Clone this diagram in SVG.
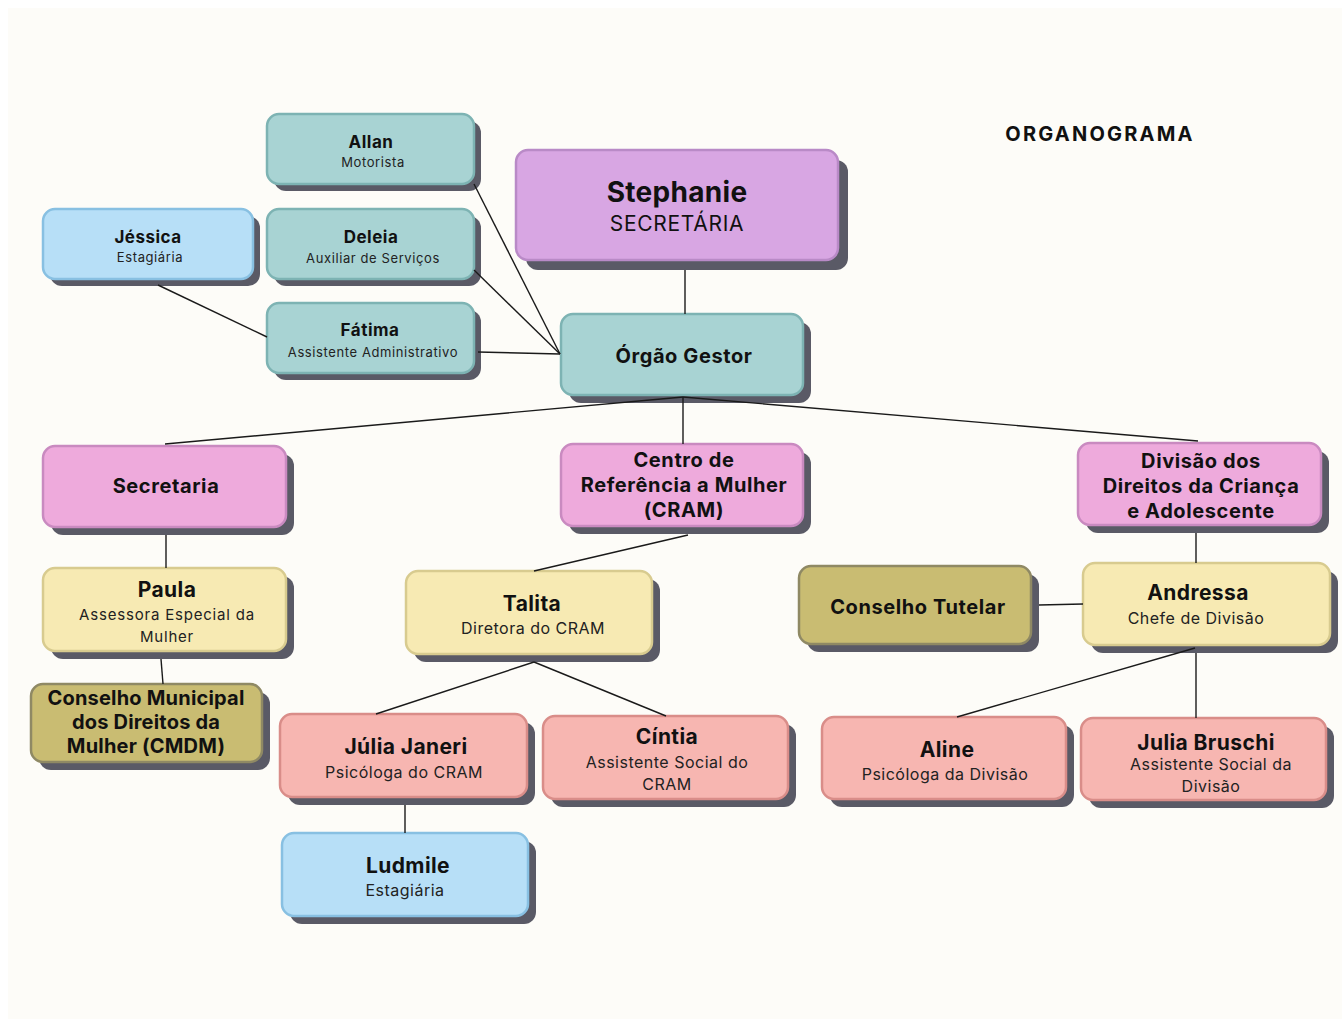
<svg xmlns="http://www.w3.org/2000/svg" width="1342" height="1019" viewBox="0 0 1342 1019">
<defs>
<style>
.sh{fill:#5a5a66}
.teal{fill:#a8d3d3;stroke:#7db3b3;stroke-width:2.5}
.blue{fill:#b7dff7;stroke:#88c0e2;stroke-width:2.5}
.purp{fill:#d8a6e3;stroke:#b98ac7;stroke-width:2.5}
.pink{fill:#eeaadc;stroke:#c98ac0;stroke-width:2.5}
.yel{fill:#f7eab3;stroke:#d8cb8f;stroke-width:2.5}
.olive{fill:#c9bc72;stroke:#8f8964;stroke-width:2.5}
.sal{fill:#f7b6b1;stroke:#d98d89;stroke-width:2.5}
text{font-family:Inter,"Liberation Sans",sans-serif;fill:#111;text-anchor:middle}
.b{font-weight:700}
.b20{font-weight:700;font-size:20px;letter-spacing:0.6px}
.n21{font-weight:700;font-size:21px;letter-spacing:0.4px}
.n17{font-weight:700;font-size:17px;letter-spacing:0.5px}
.s13{fill:#222;font-size:13px;letter-spacing:0.6px}
.s15{fill:#222;font-size:15px;letter-spacing:0.8px}
.s16{fill:#222;font-size:16px;letter-spacing:0.5px}
.con line{stroke:#1a1a1a;stroke-width:1.4}
</style>
</defs>
<rect width="1342" height="1019" fill="#ffffff"/>
<rect x="8" y="8" width="1334" height="1011" fill="#fdfcf8"/>

<g id="allan"><rect class="sh" x="274" y="121" width="207" height="70" rx="12"/><rect class="teal" x="267" y="114" width="207" height="70" rx="12"/><text class="n17" x="371" y="148">Allan</text><text class="s13" x="373" y="167">Motorista</text></g>
<g id="jessica"><rect class="sh" x="50" y="216" width="210" height="70" rx="12"/><rect class="blue" x="43" y="209" width="210" height="70" rx="12"/><text class="n17" x="148" y="243">Jéssica</text><text class="s13" x="150" y="262">Estagiária</text></g>
<g id="deleia"><rect class="sh" x="274" y="216" width="207" height="70" rx="12"/><rect class="teal" x="267" y="209" width="207" height="70" rx="12"/><text class="n17" x="371" y="243">Deleia</text><text class="s13" x="373" y="263">Auxiliar de Serviços</text></g>
<g id="fatima"><rect class="sh" x="274" y="310" width="207" height="70" rx="12"/><rect class="teal" x="267" y="303" width="207" height="70" rx="12"/><text class="n17" x="370" y="336">Fátima</text><text class="s13" x="373" y="357">Assistente Administrativo</text></g>
<g id="stephanie"><rect class="sh" x="526" y="160" width="322" height="110" rx="12"/><rect class="purp" x="516" y="150" width="322" height="110" rx="12"/><text class="b" x="677" y="202" font-size="28" letter-spacing="0.3">Stephanie</text><text x="677" y="231" font-size="21" letter-spacing="0.7" fill="#222">SECRETÁRIA</text></g>
<g id="orgao"><rect class="sh" x="569" y="322" width="242" height="81" rx="12"/><rect class="teal" x="561" y="314" width="242" height="81" rx="12"/><text class="b20" x="684" y="363">Órgão Gestor</text></g>
<g id="secretaria"><rect class="sh" x="51" y="454" width="243" height="81" rx="12"/><rect class="pink" x="43" y="446" width="243" height="81" rx="12"/><text class="b20" x="166" y="493">Secretaria</text></g>
<g id="centro"><rect class="sh" x="569" y="452" width="242" height="82" rx="12"/><rect class="pink" x="561" y="444" width="242" height="82" rx="12"/><text class="b20" x="684" y="467">Centro de</text><text class="b20" x="684" y="492">Referência a Mulher</text><text class="b20" x="684" y="517">(CRAM)</text></g>
<g id="divisao"><rect class="sh" x="1086" y="451" width="243" height="82" rx="12"/><rect class="pink" x="1078" y="443" width="243" height="82" rx="12"/><text class="b20" x="1201" y="468">Divisão dos</text><text class="b20" x="1201" y="493">Direitos da Criança</text><text class="b20" x="1201" y="518">e Adolescente</text></g>
<g id="paula"><rect class="sh" x="51" y="576" width="243" height="83" rx="12"/><rect class="yel" x="43" y="568" width="243" height="83" rx="12"/><text class="n21" x="167" y="597">Paula</text><text class="s15" x="167" y="620">Assessora Especial da</text><text class="s15" x="167" y="642">Mulher</text></g>
<g id="cmdm"><rect class="sh" x="39" y="692" width="231" height="78" rx="12"/><rect class="olive" x="31" y="684" width="231" height="78" rx="12"/><text class="b" x="146" y="705" font-size="20" letter-spacing="0.2">Conselho Municipal</text><text class="b" x="146" y="729" font-size="20" letter-spacing="0.2">dos Direitos da</text><text class="b" x="146" y="753" font-size="20" letter-spacing="0.2">Mulher (CMDM)</text></g>
<g id="talita"><rect class="sh" x="414" y="579" width="246" height="83" rx="12"/><rect class="yel" x="406" y="571" width="246" height="83" rx="12"/><text class="n21" x="532" y="611">Talita</text><text class="s16" x="533" y="634">Diretora do CRAM</text></g>
<g id="tutelar"><rect class="sh" x="807" y="574" width="232" height="78" rx="12"/><rect class="olive" x="799" y="566" width="232" height="78" rx="12"/><text class="b20" x="918" y="614">Conselho Tutelar</text></g>
<g id="andressa"><rect class="sh" x="1091" y="571" width="247" height="82" rx="12"/><rect class="yel" x="1083" y="563" width="247" height="82" rx="12"/><text class="n21" x="1198" y="600">Andressa</text><text class="s16" x="1196" y="624">Chefe de Divisão</text></g>
<g id="julia-janeri"><rect class="sh" x="288" y="722" width="247" height="83" rx="12"/><rect class="sal" x="280" y="714" width="247" height="83" rx="12"/><text class="n21" x="406" y="754">Júlia Janeri</text><text class="s16" x="404" y="778">Psicóloga do CRAM</text></g>
<g id="cintia"><rect class="sh" x="551" y="724" width="245" height="83" rx="12"/><rect class="sal" x="543" y="716" width="245" height="83" rx="12"/><text class="n21" x="667" y="744">Cíntia</text><text class="s16" x="667" y="768">Assistente Social do</text><text class="s16" x="667" y="790">CRAM</text></g>
<g id="aline"><rect class="sh" x="830" y="725" width="244" height="82" rx="12"/><rect class="sal" x="822" y="717" width="244" height="82" rx="12"/><text class="n21" x="947" y="757">Aline</text><text class="s16" x="945" y="780">Psicóloga da Divisão</text></g>
<g id="julia-bruschi"><rect class="sh" x="1089" y="726" width="245" height="82" rx="12"/><rect class="sal" x="1081" y="718" width="245" height="82" rx="12"/><text class="n21" x="1206" y="750">Julia Bruschi</text><text class="s16" x="1211" y="770">Assistente Social da</text><text class="s16" x="1211" y="792">Divisão</text></g>
<g id="ludmile"><rect class="sh" x="290" y="841" width="246" height="83" rx="12"/><rect class="blue" x="282" y="833" width="246" height="83" rx="12"/><text class="n21" x="408" y="873">Ludmile</text><text class="s16" x="405" y="896">Estagiária</text></g>
<g id="title"><text class="b" x="1100" y="141" font-size="20" letter-spacing="2.2">ORGANOGRAMA</text></g>

<g class="con" id="connectors">
<line x1="474" y1="184" x2="560" y2="354"/>
<line x1="474" y1="270" x2="560" y2="354"/>
<line x1="478" y1="352" x2="560" y2="354"/>
<line x1="158" y1="285" x2="267" y2="337"/>
<line x1="685" y1="270" x2="685" y2="314"/>
<line x1="683" y1="397" x2="165" y2="444"/>
<line x1="683" y1="397" x2="1198" y2="441"/>
<line x1="683" y1="397" x2="683" y2="444"/>
<line x1="166" y1="535" x2="166" y2="568"/>
<line x1="161" y1="659" x2="163" y2="684"/>
<line x1="688" y1="535" x2="534" y2="571"/>
<line x1="534" y1="662" x2="376" y2="714"/>
<line x1="534" y1="662" x2="666" y2="716"/>
<line x1="405" y1="805" x2="405" y2="833"/>
<line x1="1039" y1="605" x2="1083" y2="604"/>
<line x1="1196" y1="533" x2="1196" y2="563"/>
<line x1="1195" y1="648" x2="957" y2="717"/>
<line x1="1196" y1="653" x2="1196" y2="718"/>
</g>
</svg>
